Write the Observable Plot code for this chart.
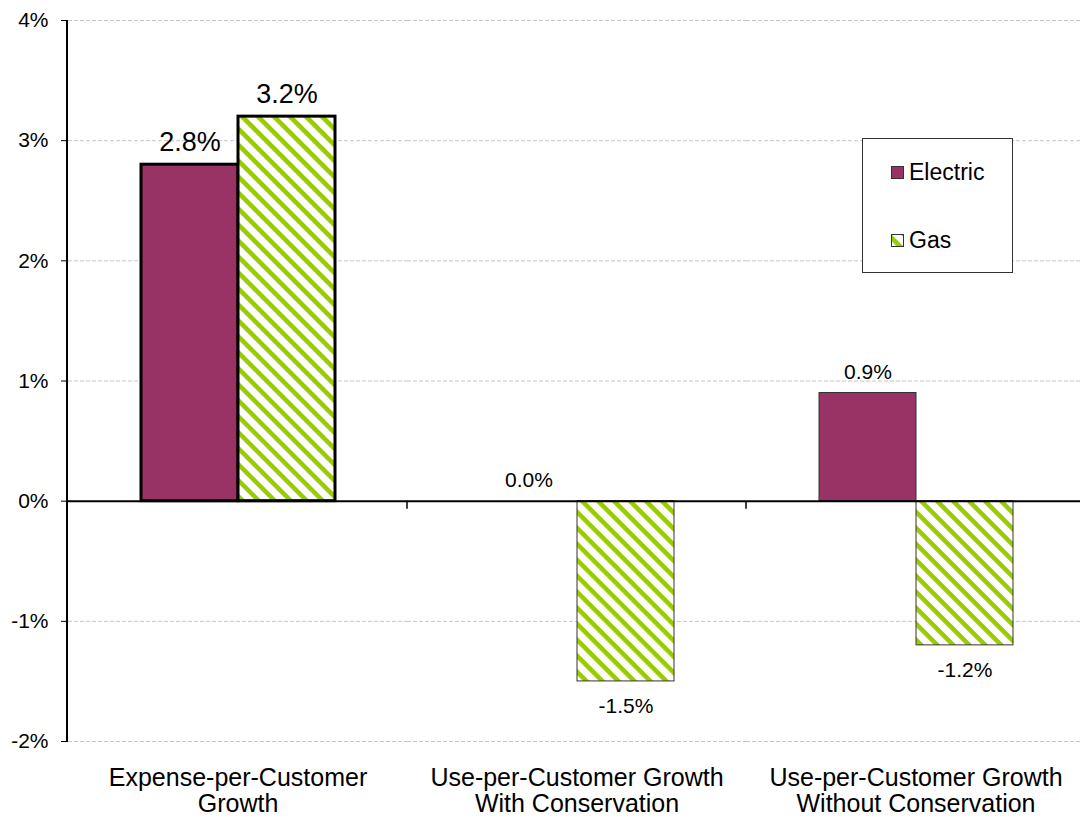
<!DOCTYPE html>
<html><head><meta charset="utf-8">
<script src="https://cdn.jsdelivr.net/npm/d3@7"></script>
<script src="https://cdn.jsdelivr.net/npm/@observablehq/plot@0.6"></script>
<style>
html,body{margin:0;padding:0;background:#fff;}
#wrap{position:relative;width:1080px;height:823px;overflow:hidden;font-family:"Liberation Sans",Arial,sans-serif;}
#wrap > svg{max-width:none !important;}
#legend{position:absolute;left:862px;top:138px;width:151px;height:135px;border:1px solid #333;box-sizing:border-box;background:#fff;}
.item{position:absolute;left:28px;display:flex;align-items:center;font-size:23px;color:#000;line-height:1;}
.item svg{margin-right:5px;}
</style></head><body>
<svg width="0" height="0" style="position:absolute">
  <defs>
    <pattern id="gasStripes" patternUnits="userSpaceOnUse" width="11.3" height="11.3" patternTransform="rotate(45)">
      <rect width="11.3" height="11.3" fill="#ffffff"/>
      <rect width="11.3" height="4.6" fill="#99CC00"/>
    </pattern>
  </defs>
</svg>
<div id="wrap"></div>
<script>
const categories = ["Expense-per-Customer Growth", "Use-per-Customer Growth With Conservation", "Use-per-Customer Growth Without Conservation"];
const categoryLabels = ["Expense-per-Customer\nGrowth", "Use-per-Customer Growth\nWith Conservation", "Use-per-Customer Growth\nWithout Conservation"];
const series = ["Electric", "Gas"];
const electricValues = [2.8, 0.0, 0.9];
const gasValues = [3.2, -1.5, -1.2];
const yTicks = [-2, -1, 0, 1, 2, 3, 4];
const seriesColors = ["#993366", "url(#gasStripes)"];

const rows = categories.flatMap((c, i) => [
  {category: c, series: "Electric", value: electricValues[i]},
  {category: c, series: "Gas", value: gasValues[i]}
]);
const emphasized = categories[0];
const fmt = d => d.value.toFixed(1) + "%";

const frameBits = Plot.ruleY(categories.map((c, i) => ({category: c, i, value: 0})), {
  fx: "category", y: "value",
  render(index, scales, values, dimensions) {
    const g = d3.create("svg:g");
    if (!index.length) return g.node();
    const i = index[0];
    const xr = scales.x.range ? scales.x.range() : [dimensions.marginLeft];
    const x0 = Math.min(...xr);
    const y = scales.y;
    if (i === 0) {
      g.append("line").attr("x1", x0 - 1).attr("x2", x0 - 1)
        .attr("y1", y(yTicks[yTicks.length - 1])).attr("y2", y(yTicks[0]))
        .attr("stroke", "#000").attr("stroke-width", 2);
    } else {
      g.append("line").attr("x1", x0).attr("x2", x0)
        .attr("y1", y(0)).attr("y2", y(0) + 8)
        .attr("stroke", "#000").attr("stroke-width", 1.5);
    }
    return g.node();
  }
});

const chart = Plot.plot({
  width: 1086, height: 823,
  marginLeft: 67, marginRight: 0, marginTop: 20, marginBottom: 82,
  style: {fontFamily: '"Liberation Sans", Arial, sans-serif', background: "#fff", color: "#000", maxWidth: "none"},
  fx: {domain: categories, paddingInner: 0, paddingOuter: 0, label: null},
  x: {domain: series, paddingInner: 0, paddingOuter: 0.733, axis: null},
  y: {domain: [-2, 4], label: null},
  color: {domain: series, range: seriesColors},
  marks: [
    Plot.ruleY(yTicks.filter(d => d !== 0), {stroke: "#c6c6c6", strokeDasharray: "4,2", strokeWidth: 1}),
    Plot.barY(rows.filter(d => d.category !== emphasized), {fx: "category", x: "series", y: "value", fill: "series", stroke: "#333", strokeWidth: 1}),
    Plot.barY(rows.filter(d => d.category === emphasized), {fx: "category", x: "series", y: "value", fill: "series", stroke: "#000", strokeWidth: 3}),
    Plot.ruleY([0], {stroke: "#000", strokeWidth: 2}),
    frameBits,
    Plot.axisY({ticks: yTicks, tickFormat: d => d + "%", tickSize: 7, tickPadding: 13, fontSize: 21, label: null, stroke: "#000"}),
    Plot.axisFx({anchor: "bottom", tickSize: 0, tickPadding: 26, fontSize: 25, lineHeight: 1.04, label: null,
      tickFormat: d => categoryLabels[categories.indexOf(d)]}),
    Plot.text(rows.filter(d => d.category === emphasized), {fx: "category", x: "series", y: "value", text: fmt, dy: -22, fontSize: 27}),
    Plot.text(rows.filter(d => d.category !== emphasized && d.value >= 0), {fx: "category", x: "series", y: "value", text: fmt, dy: -21, fontSize: 21}),
    Plot.text(rows.filter(d => d.category !== emphasized && d.value < 0), {fx: "category", x: "series", y: "value", text: fmt, dy: 25, fontSize: 21})
  ]
});
chart.style.maxWidth = "none";

const wrap = document.getElementById("wrap");
wrap.appendChild(chart);

const legend = document.createElement("div");
legend.id = "legend";
series.forEach((s, i) => {
  const item = document.createElement("div");
  item.className = "item";
  item.style.top = (i === 0 ? 22 : 90) + "px";
  item.innerHTML = `<svg width="13" height="13"><rect x="0.5" y="0.5" width="12" height="12" fill="${seriesColors[i]}" stroke="#333" stroke-width="1"/></svg><span>${s}</span>`;
  legend.appendChild(item);
});
wrap.appendChild(legend);
</script>
</body></html>
